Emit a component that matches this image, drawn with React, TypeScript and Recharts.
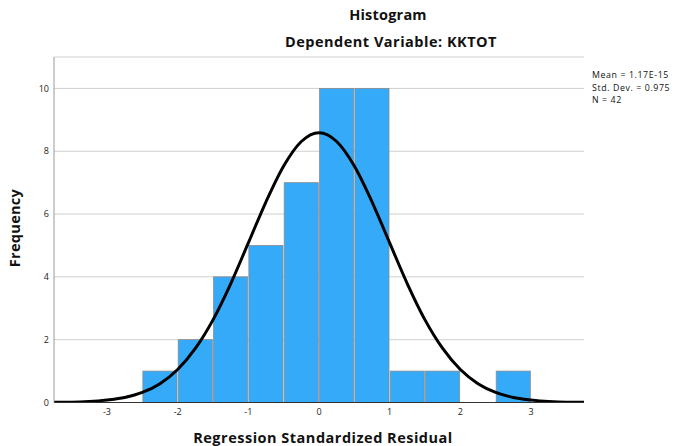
import React from "react";
import {
  Bar,
  CartesianGrid,
  ComposedChart,
  Line,
  XAxis,
  YAxis,
} from "recharts";

// x positions on a 0.25 grid; bin centres of the 0.5-wide histogram bins sit on it
const xs = [
  -3.75, -3.5, -3.25, -3, -2.75, -2.5, -2.25, -2, -1.75, -1.5, -1.25, -1, -0.75,
  -0.5, -0.25, 0, 0.25, 0.5, 0.75, 1, 1.25, 1.5, 1.75, 2, 2.25, 2.5, 2.75, 3,
  3.25, 3.5, 3.75,
];

// normal curve
const curve = [
  0.01, 0.01, 0.03, 0.08, 0.16, 0.32, 0.6, 1.05, 1.72, 2.63, 3.78, 5.08, 6.39,
  7.53, 8.31, 8.59, 8.31, 7.53, 6.39, 5.08, 3.78, 2.63, 1.72, 1.05, 0.6, 0.32,
  0.16, 0.08, 0.03, 0.01, 0.01,
];

// histogram bins (centre, count)
const binCentres = [-2.25, -1.75, -1.25, -0.75, -0.25, 0.25, 0.75, 1.25, 1.75, 2.25, 2.75];
const counts = [1, 2, 4, 5, 7, 10, 10, 1, 1, 0, 1];
const BIN_WIDTH = 0.5;

const xDomain = [-3.75, 3.75];
const xTicks = [-3, -2, -1, 0, 1, 2, 3];
const yTicks = [0, 2, 4, 6, 8, 10];

const stats = ["Mean = 1.17E-15", "Std. Dev. = 0.975", "N = 42"];

const data = xs.map((x, i) => {
  const b = binCentres.indexOf(x);
  return { x, curve: curve[i], freq: b >= 0 && counts[b] > 0 ? counts[b] : null };
});

const W = 678;
const H = 446;
const Y_AXIS_W = 54;
const RIGHT = 94;
const PLOT_W = W - Y_AXIS_W - RIGHT;
const BIN_PX = (PLOT_W / (xDomain[1] - xDomain[0])) * BIN_WIDTH;

const FONT = "'Open Sans', 'DejaVu Sans', sans-serif";
const TICK = { fontSize: 9, fontFamily: FONT, fill: "#222" };

// Recharts squeezes bars on a number axis; redraw each one a full bin wide,
// centred where the library put it.
function BinBar(props: any) {
  const { x, y, width, height } = props;
  if (height == null || height <= 0) return <g />;
  const cx = x + width / 2;
  const w = BIN_PX - 1.2;
  return (
    <rect
      x={cx - w / 2}
      y={y}
      width={w}
      height={height}
      fill="#34aaf8"
      stroke="#8c8c8c"
      strokeWidth={0.8}
    />
  );
}

export default function App() {
  return (
    <div style={{ position: "relative", width: W, height: H, background: "#fff" }}>
      <style>{`body{margin:0;}`}</style>
      <ComposedChart
        width={W}
        height={H}
        data={data}
        margin={{ top: 57, right: RIGHT, bottom: 0, left: 0 }}
      >
        <CartesianGrid horizontal vertical={false} stroke="#cfcfcf" strokeWidth={1} />
        <XAxis
          dataKey="x"
          type="number"
          domain={xDomain}
          ticks={xTicks}
          height={43.5}
          tickSize={0}
          tickMargin={6}
          tick={TICK}
          axisLine={{ stroke: "#333" }}
          allowDataOverflow
        />
        <YAxis
          type="number"
          domain={[0, 11]}
          ticks={yTicks}
          width={Y_AXIS_W}
          tickSize={0}
          tickMargin={5}
          tick={TICK}
          axisLine={{ stroke: "#9a9a9a" }}
          allowDataOverflow
        />
        <Bar dataKey="freq" shape={<BinBar />} isAnimationActive={false} />
        <Line
          dataKey="curve"
          type="monotone"
          stroke="#000"
          strokeWidth={3}
          dot={false}
          activeDot={false}
          isAnimationActive={false}
        />
      </ComposedChart>
      <svg
        width={W}
        height={H}
        style={{ position: "absolute", left: 0, top: 0, pointerEvents: "none" }}
        fontFamily={FONT}
        fontWeight="bold"
        fill="#111"
      >
        <text x={388} y={20} textAnchor="middle" fontSize={14.5} letterSpacing={0.2}>
          Histogram
        </text>
        <text x={391} y={47} textAnchor="middle" fontSize={14.5} letterSpacing={0.5}>
          Dependent Variable: KKTOT
        </text>
        <text
          x={20}
          y={228}
          textAnchor="middle"
          fontSize={14.5}
          letterSpacing={0.3}
          transform="rotate(-90 20 228)"
        >
          Frequency
        </text>
        <text x={323} y={443} textAnchor="middle" fontSize={14.5} letterSpacing={0.5}>
          Regression Standardized Residual
        </text>
        {stats.map((s, i) => (
          <text
            key={s}
            x={592}
            y={78 + i * 12.5}
            fontSize={8.8}
            fontWeight="normal"
            letterSpacing={0.6}
          >
            {s}
          </text>
        ))}
      </svg>
    </div>
  );
}
